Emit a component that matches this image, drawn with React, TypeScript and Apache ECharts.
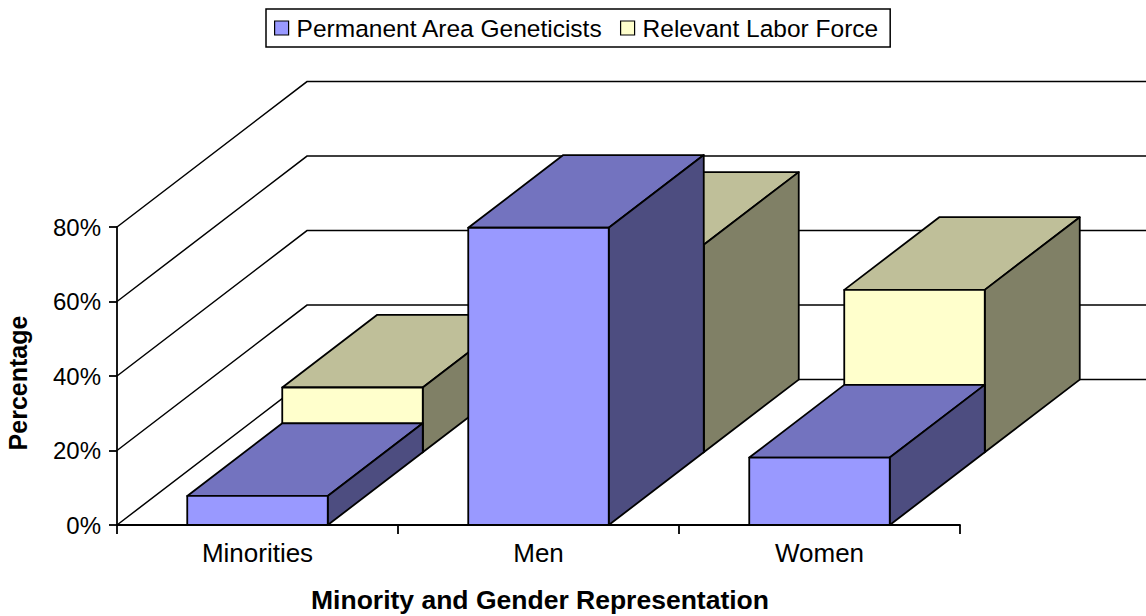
import React, { useEffect, useRef } from "react";
import * as echarts from "echarts";

const CATEGORIES = ["Minorities", "Men", "Women"];
const GENETICISTS = [7.8, 79.8, 18.1];
const LABOR_FORCE = [17.4, 55.7, 43.6];
const Y_TICKS = [0, 20, 40, 60, 80];
const SERIES_NAMES = ["Permanent Area Geneticists", "Relevant Labor Force"];

// oblique projection: depth offset of one series row
const DX = 95;
const DY = -72.7;
const FONT = "'Liberation Sans', Arial, sans-serif";

const BLUE = { front: "#9999FF", top: "#7373BF", side: "#4D4D80" };
const YELLOW = { front: "#FFFFCC", top: "#BFBF99", side: "#808066" };

function barRenderer(row: number, colors: { front: string; top: string; side: string }) {
  return (params: any, api: any) => {
    const i = api.value(0);
    const v = api.value(1);
    const [cx, yTop] = api.coord([i, v]);
    const [, yBase] = api.coord([i, 0]);
    const w = api.size([1, 0])[0] * 0.5;
    const ox = row * DX;
    const oy = row * DY;
    const L = cx - w / 2 + ox;
    const R = cx + w / 2 + ox;
    const T = yTop + oy;
    const B = yBase + oy;
    const st = { stroke: "#000", lineWidth: 1.8, lineJoin: "round" };
    return {
      type: "group",
      children: [
        { type: "polygon", shape: { points: [[L, T], [R, T], [R + DX, T + DY], [L + DX, T + DY]] }, style: { fill: colors.top, ...st } },
        { type: "polygon", shape: { points: [[R, T], [R + DX, T + DY], [R + DX, B + DY], [R, B]] }, style: { fill: colors.side, ...st } },
        { type: "rect", shape: { x: L, y: T, width: R - L, height: B - T }, style: { fill: colors.front, ...st } },
      ],
    };
  };
}

function gridRenderer(params: any, api: any) {
  const v = api.value(1);
  const [, y] = api.coord([0, v]);
  const x0 = params.coordSys.x;
  const w = params.coordSys.width;
  return {
    type: "polyline",
    shape: { points: [[x0, y], [x0 + 2 * DX, y + 2 * DY], [x0 + w + 2 * DX, y + 2 * DY]] },
    style: { stroke: "#000", lineWidth: 1.5, fill: null },
  };
}

export default function App() {
  const ref = useRef<HTMLDivElement>(null);
  useEffect(() => {
    const chart = echarts.init(ref.current!, null, { renderer: "svg" });
    chart.setOption({
      animation: false,
      backgroundColor: "#fff",
      legend: {
        data: SERIES_NAMES,
        top: 9,
        left: 266,
        orient: "horizontal",
        icon: "rect",
        itemWidth: 14,
        itemHeight: 14,
        itemGap: 17,
        padding: [5, 12, 5, 8],
        borderColor: "#000",
        borderWidth: 1.5,
        itemStyle: { borderColor: "#000", borderWidth: 1.2 },
        textStyle: { fontFamily: FONT, fontSize: 24.5, color: "#000", lineHeight: 28, padding: [0, 0, 0, 3] },
      },
      grid: { left: 117, top: 227, width: 843, bottom: 91 },
      xAxis: {
        type: "category",
        data: CATEGORIES,
        boundaryGap: true,
        axisLine: { lineStyle: { color: "#000", width: 1.8 } },
        axisTick: { show: true, length: 9, alignWithLabel: false, lineStyle: { color: "#000", width: 1.8 } },
        axisLabel: { fontFamily: FONT, fontSize: 26, color: "#000", margin: 15 },
        splitLine: { show: false },
      },
      yAxis: {
        type: "value",
        min: 0,
        max: 80,
        interval: 20,
        axisLine: { show: true, lineStyle: { color: "#000", width: 1.8 } },
        axisTick: { show: true, length: 8, lineStyle: { color: "#000", width: 1.8 } },
        axisLabel: { fontFamily: FONT, fontSize: 24, color: "#000", margin: 16, formatter: "{value}%" },
        splitLine: { show: false },
      },
      graphic: [
        {
          type: "text",
          x: 18,
          y: 383,
          rotation: Math.PI / 2,
          style: { text: "Percentage", font: `bold 25px ${FONT}`, fill: "#000", align: "center", verticalAlign: "middle" },
        },
        {
          type: "text",
          x: 540,
          y: 600,
          style: { text: "Minority and Gender Representation", font: `bold 26.5px ${FONT}`, fill: "#000", align: "center", verticalAlign: "middle" },
        },
      ],
      series: [
        {
          type: "custom",
          clip: false,
          silent: true,
          renderItem: gridRenderer,
          data: Y_TICKS.map((v) => [0, v]),
          z: 1,
        },
        {
          type: "custom",
          name: SERIES_NAMES[1],
          clip: false,
          renderItem: barRenderer(1, YELLOW),
          itemStyle: { color: YELLOW.front },
          data: LABOR_FORCE.map((v, i) => [i, v]),
          z: 2,
        },
        {
          type: "custom",
          name: SERIES_NAMES[0],
          clip: false,
          renderItem: barRenderer(0, BLUE),
          itemStyle: { color: BLUE.front },
          data: GENETICISTS.map((v, i) => [i, v]),
          z: 3,
        },
      ],
    });
    return () => chart.dispose();
  }, []);
  return (
    <div
      ref={ref}
      style={{ position: "fixed", left: 0, top: 0, width: 1146, height: 616, background: "#fff" }}
    />
  );
}
